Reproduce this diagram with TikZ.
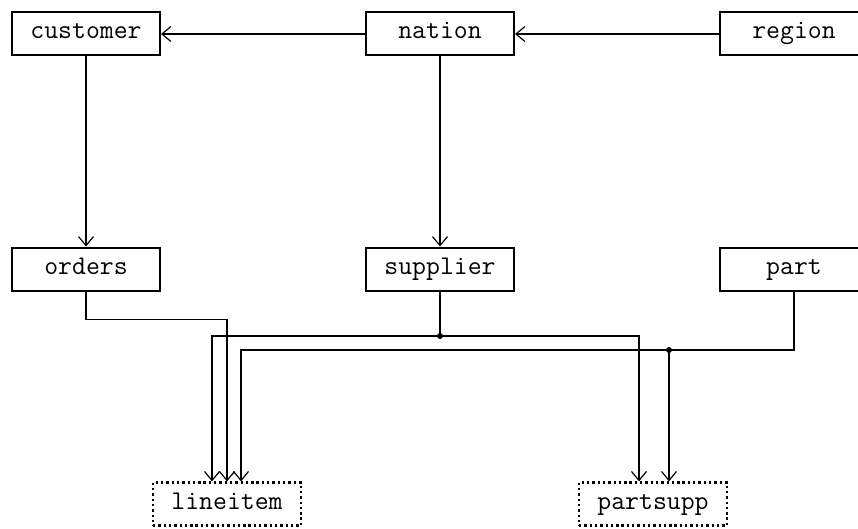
\documentclass[tikz,border=0pt]{standalone}
\usepackage{fontspec}
\usetikzlibrary{positioning, shadows, arrows.meta}

\begin{document}
\begin{tikzpicture}[x=1pt, y=-1pt,
    table/.style={draw, line width=2pt, fill=white, minimum width=148pt, minimum height=43pt,
        font=\ttfamily\fontsize{27}{27}\selectfont, inner sep=0pt, text height=15pt, text depth=5pt,
        drop shadow={shadow xshift=1pt, shadow yshift=-1pt, opacity=1, fill=black!75}},
    fact/.style={draw, line width=2.2pt, dash pattern=on 2.4pt off 2.9pt, fill=white, minimum width=148pt,
        minimum height=43pt, font=\ttfamily\fontsize{27}{27}\selectfont, inner sep=0pt,
        text height=15pt, text depth=5pt},
    link/.style={line width=1.2pt},
    ref/.style={link, -{Straight Barb[length=9pt, width=15pt, line width=1.2pt]}}]
    \useasboundingbox (0,0) rectangle (858,529);
    % dimension tables
    \node[table] (customer) at (86,34) {customer};
    \node[table] (nation) at (440,34) {nation};
    \node[table] (region) at (794,34) {region};
    \node[table] (orders) at (86,269) {orders};
    \node[table] (supplier) at (440,269) {supplier};
    \node[table] (part) at (794,269) {part};
    % fact tables
    \node[fact] (lineitem) at (227,504) {lineitem};
    \node[fact] (partsupp) at (653,504) {partsupp};
    % junctions
    \coordinate (supjoin) at (440,336);
    \coordinate (partjoin) at (669,350);
    \draw[ref] (region) -- (nation);
    \draw[ref] (nation) -- (customer);
    \draw[ref] (customer) -- (orders);
    \draw[ref] (nation) -- (supplier);
    \draw[ref] (orders.south) -- ++(0,28) -| (lineitem.north);
    \draw[link] (supplier.south) -- (supjoin);
    \draw[ref] (supjoin) -| ([xshift=-15pt]lineitem.north);
    \draw[ref] (supjoin) -| ([xshift=-14pt]partsupp.north);
    \draw[link] (part.south) |- (partjoin);
    \draw[ref] (partjoin) -| ([xshift=14pt]lineitem.north);
    \draw[ref] (partjoin) -- ([xshift=16pt]partsupp.north);
    \fill (supjoin) circle (3pt) (partjoin) circle (3pt);
\end{tikzpicture}
\end{document}
